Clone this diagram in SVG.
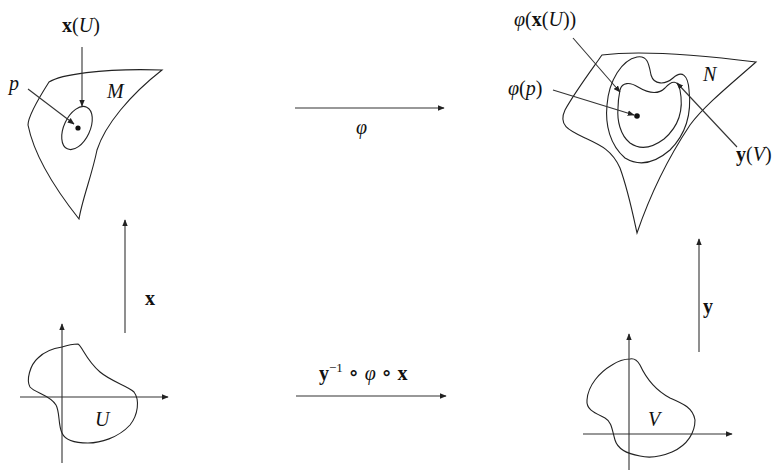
<svg xmlns="http://www.w3.org/2000/svg" width="783" height="470" viewBox="0 0 783 470">
<defs>
<marker id="ah" viewBox="0 0 10 8" refX="9" refY="4" markerWidth="7" markerHeight="6" markerUnits="userSpaceOnUse" orient="auto">
<path d="M0,0 L10,4 L0,8 Z" fill="#222"/>
</marker>
<style>
.ln{fill:none;stroke:#222;stroke-width:1.1}
.ar{fill:none;stroke:#333;stroke-width:1.1;marker-end:url(#ah)}
.t{font-family:"Liberation Serif","DejaVu Serif",serif;font-size:20px;fill:#111}
.i{font-style:italic}
.b{font-weight:bold}
</style>
</defs>
<rect width="783" height="470" fill="#fff"/>

<g id="manifold-M">
<path class="ln" d="M49,82 C60,75 100,68 162,70 C130,95 105,125 97,150 C92,175 82,200 79,219 C60,195 35,160 28,125 C28,117 35,104 49,82 Z"/>
<ellipse class="ln" cx="77" cy="128" rx="13" ry="23" transform="rotate(25 77 128)"/>
<circle cx="78" cy="128" r="2.6" fill="#111"/>
<text class="t i" x="107" y="98">M</text>
<text class="t" x="9" y="90"><tspan class="i">p</tspan></text>
<text class="t" x="62" y="32"><tspan class="b">x</tspan>(<tspan class="i">U</tspan>)</text>
</g>

<g id="manifold-N">
<path class="ln" d="M602,55 C640,50 700,55 756,62 C730,85 705,105 690,125 C670,155 650,195 637,233 C632,210 628,190 620,168 C612,150 600,145 585,138 C568,130 558,125 565,110 C575,92 590,72 602,55 Z"/>
<path class="ln" d="M637,57 C648,55 649,65 651,75 C654,85 665,85 673,78 C682,70 688,75 689,90 C692,115 685,135 670,150 C655,163 640,167 625,158 C610,145 605,125 607,105 C609,80 622,60 637,57 Z"/>
<path class="ln" d="M620,90 C622,82 630,82 638,87 C648,93 658,95 665,88 C672,80 678,80 680,90 C684,110 678,127 664,139 C652,148 640,150 630,143 C620,135 617,120 618,108 C618,100 619,95 620,90 Z"/>
<circle cx="637" cy="116" r="2.8" fill="#111"/>
<text class="t i" x="703" y="81">N</text>
<text class="t" x="508" y="95"><tspan class="i">φ</tspan>(<tspan class="i">p</tspan>)</text>
<text class="t" x="514" y="26"><tspan class="i">φ</tspan>(<tspan class="b">x</tspan>(<tspan class="i">U</tspan>))</text>
<text class="t" x="736" y="161"><tspan class="b">y</tspan>(<tspan class="i">V</tspan>)</text>
</g>

<g id="chart-U">
<path class="ar" d="M62,463 L62,324"/>
<path class="ar" d="M20,397 L168,397"/>
<path class="ln" d="M62,347 C68,345 74,344 78,344 C82,346 86,360 100,372 C112,382 128,386 134,392 C140,400 138,415 130,425 C118,438 100,443 88,443 C75,443 65,440 62,433 C58,425 60,412 56,405 C50,395 35,393 30,387 C26,380 30,365 38,358 C45,351 55,348 62,347 Z"/>
<text class="t i" x="95" y="426">U</text>
</g>

<g id="chart-V">
<path class="ar" d="M629,470 L629,334"/>
<path class="ar" d="M583,434 L732,434"/>
<path class="ln" d="M630,359 C634,358 637,360 640,365 C646,378 655,390 670,398 C684,404 693,408 695,420 C695,432 688,445 672,452 C660,457 648,458 640,456 C628,454 618,450 615,440 C612,430 612,422 605,418 C595,413 586,410 587,400 C588,385 600,372 612,365 C618,361 625,359 630,359 Z"/>
<text class="t i" x="648" y="426">V</text>
</g>

<g id="connectors">
<path class="ar" d="M82,47 L82,106"/>
<path class="ar" d="M28,89 L74,124"/>
<path class="ar" d="M573,38 L620,92"/>
<path class="ar" d="M553,90 L634,115"/>
<path class="ar" d="M737,147 L677,83"/>
<path class="ar" d="M295,108 L444,108"/>
<path class="ar" d="M296,396 L446,396"/>
<path class="ar" d="M125,333 L125,220"/>
<path class="ar" d="M699,352 L699,239"/>
</g>

<g id="map-labels">
<text class="t i" x="356" y="134">φ</text>
<text class="t" x="319" y="380"><tspan class="b">y</tspan><tspan font-size="13" dy="-8">−1</tspan><tspan dy="8" font-size="22"> ∘ </tspan><tspan class="i">φ</tspan><tspan font-size="22"> ∘ </tspan><tspan class="b">x</tspan></text>
<text class="t b" x="145" y="305">x</text>
<text class="t b" x="703" y="313">y</text>
</g>
</svg>
